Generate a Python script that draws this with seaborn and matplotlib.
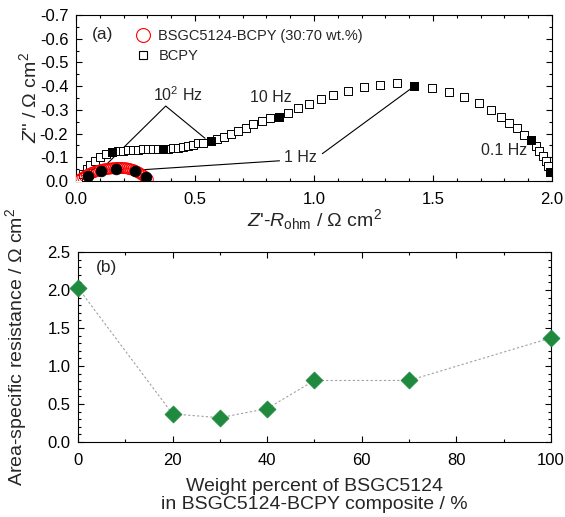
import pandas as pd
import seaborn as sns
import matplotlib.pyplot as plt
from matplotlib.lines import Line2D
from matplotlib.ticker import MultipleLocator, FuncFormatter

sns.set_theme(style="ticks")
plt.rcParams['font.family'] = ['Liberation Sans', 'DejaVu Sans']
plt.rcParams['mathtext.fontset'] = 'custom'
plt.rcParams['mathtext.rm'] = 'Liberation Sans'
plt.rcParams['mathtext.it'] = 'Liberation Sans:italic'
plt.rcParams['axes.unicode_minus'] = False

# (a) Nyquist data, BCPY (open squares) and decade points (filled)
bcpy_re = [0.01, 0.03, 0.045, 0.06, 0.08, 0.10, 0.125, 0.153, 0.175, 0.196, 0.217, 0.238,
           0.259, 0.28, 0.301, 0.322, 0.343, 0.367, 0.388, 0.409, 0.430, 0.451, 0.472,
           0.493, 0.514, 0.535, 0.566, 0.594, 0.622, 0.651, 0.682, 0.714, 0.745, 0.780,
           0.815, 0.854, 0.892, 0.934, 0.980, 1.028, 1.081, 1.144, 1.21, 1.277, 1.347,
           1.421, 1.494, 1.567, 1.632, 1.693, 1.742, 1.784, 1.821, 1.852, 1.884, 1.912,
           1.933, 1.947, 1.961, 1.974, 1.985, 1.992]
bcpy_im = [-0.01, -0.03, -0.05, -0.068, -0.086, -0.103, -0.113, -0.121, -0.125, -0.128,
           -0.130, -0.131, -0.132, -0.133, -0.133, -0.134, -0.134, -0.134, -0.135, -0.138,
           -0.141, -0.143, -0.148, -0.153, -0.158, -0.162, -0.167, -0.176, -0.187, -0.198,
           -0.211, -0.225, -0.240, -0.254, -0.265, -0.271, -0.286, -0.307, -0.325, -0.345,
           -0.363, -0.381, -0.395, -0.404, -0.412, -0.401, -0.394, -0.377, -0.353, -0.328,
           -0.300, -0.271, -0.246, -0.222, -0.194, -0.173, -0.149, -0.128, -0.107, -0.086,
           -0.065, -0.039]
bcpy_dec_re = [0.153, 0.367, 0.566, 0.854, 1.421, 1.912, 1.992]
bcpy_dec_im = [-0.121, -0.134, -0.167, -0.271, -0.401, -0.173, -0.039]

# composite BSGC5124-BCPY (30:70 wt.%)
comp_re = [0.015, 0.022, 0.03, 0.038, 0.046, 0.054, 0.062, 0.07, 0.078, 0.086, 0.094,
           0.102, 0.11, 0.118, 0.126, 0.134, 0.142, 0.15, 0.158, 0.166, 0.174, 0.182,
           0.19, 0.198, 0.206, 0.214, 0.222, 0.23, 0.238, 0.246, 0.254, 0.262, 0.27,
           0.278, 0.286, 0.294, 0.302]
comp_im = [-0.004, -0.009, -0.014, -0.019, -0.024, -0.028, -0.032, -0.035, -0.038, -0.041,
           -0.043, -0.045, -0.047, -0.049, -0.050, -0.051, -0.052, -0.053, -0.054, -0.054,
           -0.055, -0.055, -0.055, -0.054, -0.054, -0.053, -0.051, -0.049, -0.047, -0.044,
           -0.040, -0.036, -0.031, -0.026, -0.020, -0.014, -0.007]
comp_dec_re = [0.052, 0.104, 0.168, 0.248, 0.294]
comp_dec_im = [-0.022, -0.043, -0.049, -0.043, -0.016]

# (b) area-specific resistance vs composition
wt_percent = [0, 20, 30, 40, 50, 70, 100]
asr = [2.03, 0.37, 0.32, 0.44, 0.81, 0.81, 1.37]

green = '#1f8a3e'

fig = plt.figure(figsize=(5.65, 5.17), dpi=100)
ax1 = fig.add_axes([0.1345, 0.650, 0.8425, 0.321])
ax2 = fig.add_axes([0.138, 0.145, 0.837, 0.3675])

# ---- panel (a)
sns.scatterplot(x=bcpy_re, y=bcpy_im, ax=ax1, marker='s', s=26, facecolor='white',
                edgecolor='black', linewidth=0.7, zorder=3)
sns.scatterplot(x=bcpy_dec_re, y=bcpy_dec_im, ax=ax1, marker='s', s=34, color='black',
                edgecolor='black', linewidth=0.7, zorder=4)
sns.scatterplot(x=comp_re, y=comp_im, ax=ax1, marker='o', s=60, facecolor='none',
                edgecolor='red', linewidth=0.7, zorder=3)
sns.scatterplot(x=comp_dec_re, y=comp_dec_im, ax=ax1, marker='o', s=60, color='black',
                edgecolor='black', linewidth=0.5, zorder=4)

# frequency annotations
ax1.text(0.43, -0.363, '10$^2$ Hz', fontsize=11.5, ha='center', va='center')
ax1.plot([0.104, 0.377, 0.542], [-0.046, -0.316, -0.18], color='black', lw=0.8)
ax1.text(0.82, -0.35, '10 Hz', fontsize=11.5, ha='center', va='center')
ax1.text(0.875, -0.097, '1 Hz', fontsize=11.5, ha='left', va='center')
ax1.plot([0.26, 0.855], [-0.046, -0.085], color='black', lw=0.8)
ax1.plot([1.035, 1.415], [-0.115, -0.395], color='black', lw=0.8)
ax1.text(1.70, -0.128, '0.1 Hz', fontsize=11.5, ha='left', va='center')
ax1.text(0.11, -0.616, '(a)', fontsize=12.5, ha='center', va='center')

handles = [Line2D([], [], marker='o', ls='none', ms=10, mfc='none', mec='red', mew=0.8),
           Line2D([], [], marker='s', ls='none', ms=6, mfc='white', mec='black', mew=0.8)]
ax1.legend(handles, ['BSGC5124-BCPY (30:70 wt.%)', 'BCPY'], loc='upper left',
           bbox_to_anchor=(0.095, 0.995), frameon=False, fontsize=10.5,
           handletextpad=0.45, labelspacing=0.4, handlelength=1.2)

ax1.set_xlim(0, 2.0)
ax1.set_ylim(0, -0.7)
ax1.xaxis.set_major_locator(MultipleLocator(0.5))
ax1.xaxis.set_minor_locator(MultipleLocator(0.1))
ax1.yaxis.set_major_locator(MultipleLocator(0.1))
ax1.yaxis.set_minor_locator(MultipleLocator(0.05))
ax1.yaxis.set_major_formatter(FuncFormatter(lambda v, p: '0.0' if abs(v) < 1e-9 else f'{v:.1f}'))
ax1.set_xlabel("$Z$'-$R_{\\rm ohm}$ / Ω cm$^2$", fontsize=14, labelpad=0)
ax1.set_ylabel("$Z$'' / Ω cm$^2$", fontsize=14, labelpad=0)

# ---- panel (b)
sns.lineplot(x=wt_percent, y=asr, ax=ax2, color='#a0a0a0', lw=0.8, linestyle=(0, (2, 2)),
             zorder=2)
sns.scatterplot(x=wt_percent, y=asr, ax=ax2, marker='D', s=75, color=green,
                edgecolor=green, linewidth=0.5, zorder=3, clip_on=False)
ax2.text(6, 2.3, '(b)', fontsize=12.5, ha='center', va='center')
ax2.set_xlim(0, 100)
ax2.set_ylim(0, 2.5)
ax2.xaxis.set_major_locator(MultipleLocator(20))
ax2.xaxis.set_minor_locator(MultipleLocator(10))
ax2.yaxis.set_major_locator(MultipleLocator(0.5))
ax2.yaxis.set_minor_locator(MultipleLocator(0.1))
ax2.set_xlabel('Weight percent of BSGC5124\nin BSGC5124-BCPY composite / %', fontsize=14,
               labelpad=7, linespacing=1.1)
ax2.set_ylabel('Area-specific resistance / Ω cm$^2$', fontsize=14, labelpad=13)

for ax in (ax1, ax2):
    ax.tick_params(which='both', direction='in', top=True, right=True, labelsize=12,
                   width=0.8, colors='black')
    ax.tick_params(which='major', length=4)
    ax.tick_params(axis='x', which='major', pad=8)
    ax.tick_params(axis='y', which='major', pad=5.5)
    ax.tick_params(which='minor', length=2.5)
    for sp in ax.spines.values():
        sp.set_linewidth(0.8)
        sp.set_color('black')

fig.savefig('out.png', dpi=100)
